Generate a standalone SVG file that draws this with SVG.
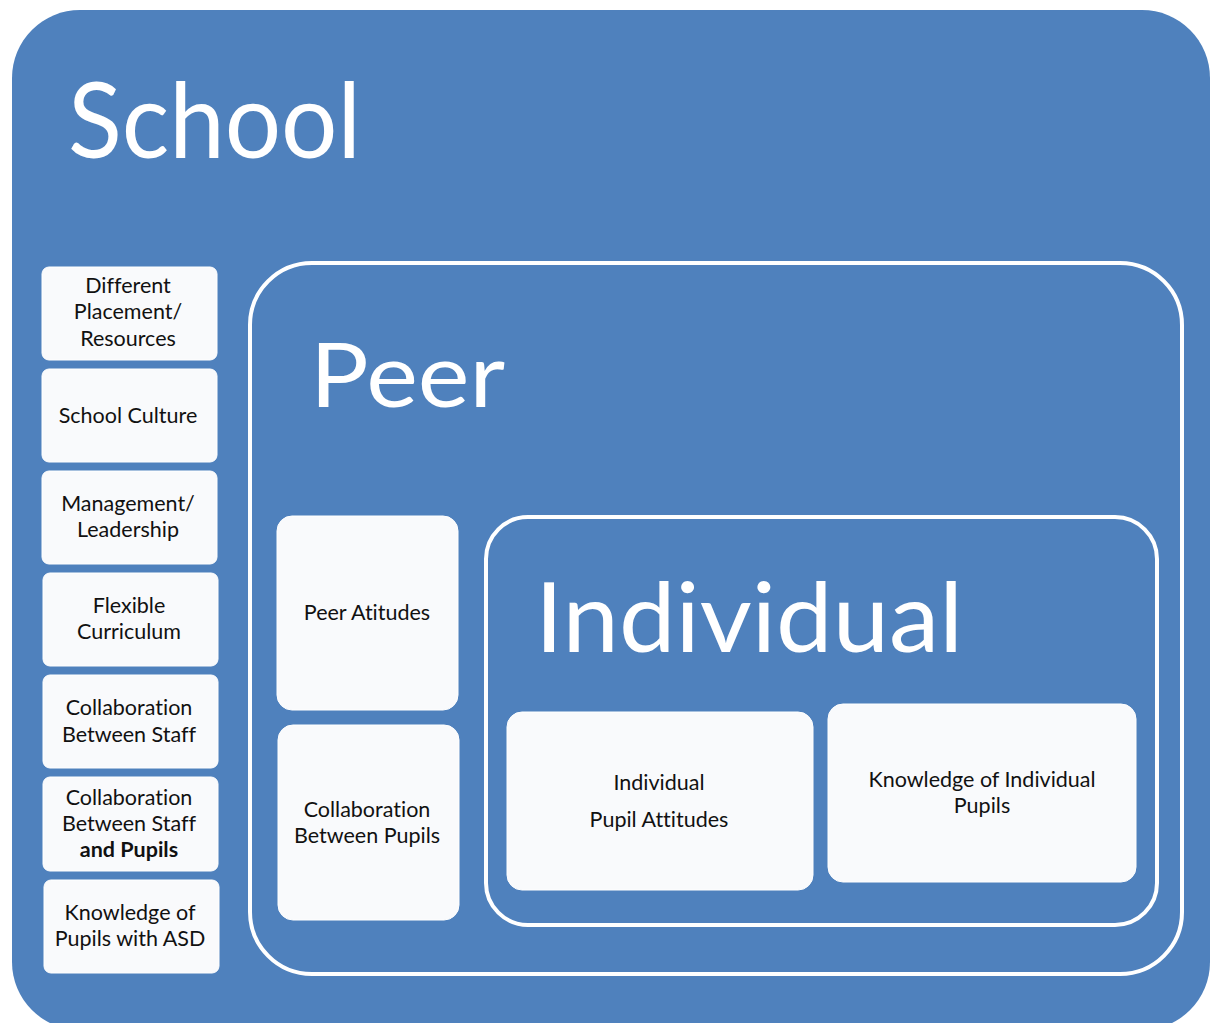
<svg xmlns="http://www.w3.org/2000/svg" width="1219" height="1023" viewBox="0 0 1219 1023">
<style>
.bg{fill:#4f81bd}
.frame{fill:none;stroke:#ffffff;stroke-width:4}
.box{fill:#f9fafc;stroke:#ffffff;stroke-width:1}
.title{font-family:Lato,"Liberation Sans",sans-serif;fill:#ffffff}
.lbl{font-family:Lato,"Liberation Sans",sans-serif;font-size:21.5px;fill:#111111;text-anchor:middle;font-variant-ligatures:none}
</style>
<rect width="1219" height="1023" fill="#ffffff"/>
<g id="school">
<rect class="bg" x="12" y="10" width="1198" height="1020" rx="68"/>
<text class="title" x="68" y="158" font-size="104" textLength="293" lengthAdjust="spacingAndGlyphs">School</text>
</g>
<g id="peer">
<rect class="frame" x="250" y="263" width="932" height="711" rx="62"/>
<text class="title" x="310" y="407" font-size="90" textLength="195" lengthAdjust="spacingAndGlyphs">Peer</text>
</g>
<g id="individual">
<rect class="frame" x="486" y="517" width="671" height="408" rx="42"/>
<text class="title" x="535" y="652" font-size="96" textLength="428" lengthAdjust="spacingAndGlyphs">Individual</text>
</g>
<g id="different-placement">
<rect class="box" x="42" y="267" width="175" height="93" rx="7"/>
<text class="lbl" x="128" y="293">Different</text>
<text class="lbl" x="128" y="319">Placement/</text>
<text class="lbl" x="128" y="346">Resources</text>
</g>
<g id="school-culture">
<rect class="box" x="42" y="369" width="175" height="93" rx="7"/>
<text class="lbl" x="128" y="423">School Culture</text>
</g>
<g id="management">
<rect class="box" x="42" y="471" width="175" height="93" rx="7"/>
<text class="lbl" x="128" y="511">Management/</text>
<text class="lbl" x="128" y="537">Leadership</text>
</g>
<g id="flexible-curriculum">
<rect class="box" x="43" y="573" width="175" height="93" rx="7"/>
<text class="lbl" x="129" y="613">Flexible</text>
<text class="lbl" x="129" y="639">Curriculum</text>
</g>
<g id="collab-staff">
<rect class="box" x="43" y="675" width="175" height="93" rx="7"/>
<text class="lbl" x="129" y="715">Collaboration</text>
<text class="lbl" x="129" y="742">Between Staff</text>
</g>
<g id="collab-staff-pupils">
<rect class="box" x="43" y="777" width="175" height="94" rx="7"/>
<text class="lbl" x="129" y="805">Collaboration</text>
<text class="lbl" x="129" y="831">Between Staff</text>
<text class="lbl" x="129" y="857" font-weight="bold">and Pupils</text>
</g>
<g id="knowledge-asd">
<rect class="box" x="44" y="880" width="175" height="93" rx="7"/>
<text class="lbl" x="130" y="920">Knowledge of</text>
<text class="lbl" x="130" y="946">Pupils with ASD</text>
</g>
<g id="peer-attitudes">
<rect class="box" x="277" y="516" width="181" height="194" rx="15"/>
<text class="lbl" x="367" y="620">Peer Atitudes</text>
</g>
<g id="collab-pupils">
<rect class="box" x="278" y="725" width="181" height="195" rx="15"/>
<text class="lbl" x="367" y="817">Collaboration</text>
<text class="lbl" x="367" y="843">Between Pupils</text>
</g>
<g id="pupil-attitudes">
<rect class="box" x="507" y="712" width="306" height="178" rx="15"/>
<text class="lbl" x="659" y="790">Individual</text>
<text class="lbl" x="659" y="827">Pupil Attitudes</text>
</g>
<g id="knowledge-individual">
<rect class="box" x="828" y="704" width="308" height="178" rx="15"/>
<text class="lbl" x="982" y="787">Knowledge of Individual</text>
<text class="lbl" x="982" y="813">Pupils</text>
</g>
<g id="connectors"></g>
</svg>
